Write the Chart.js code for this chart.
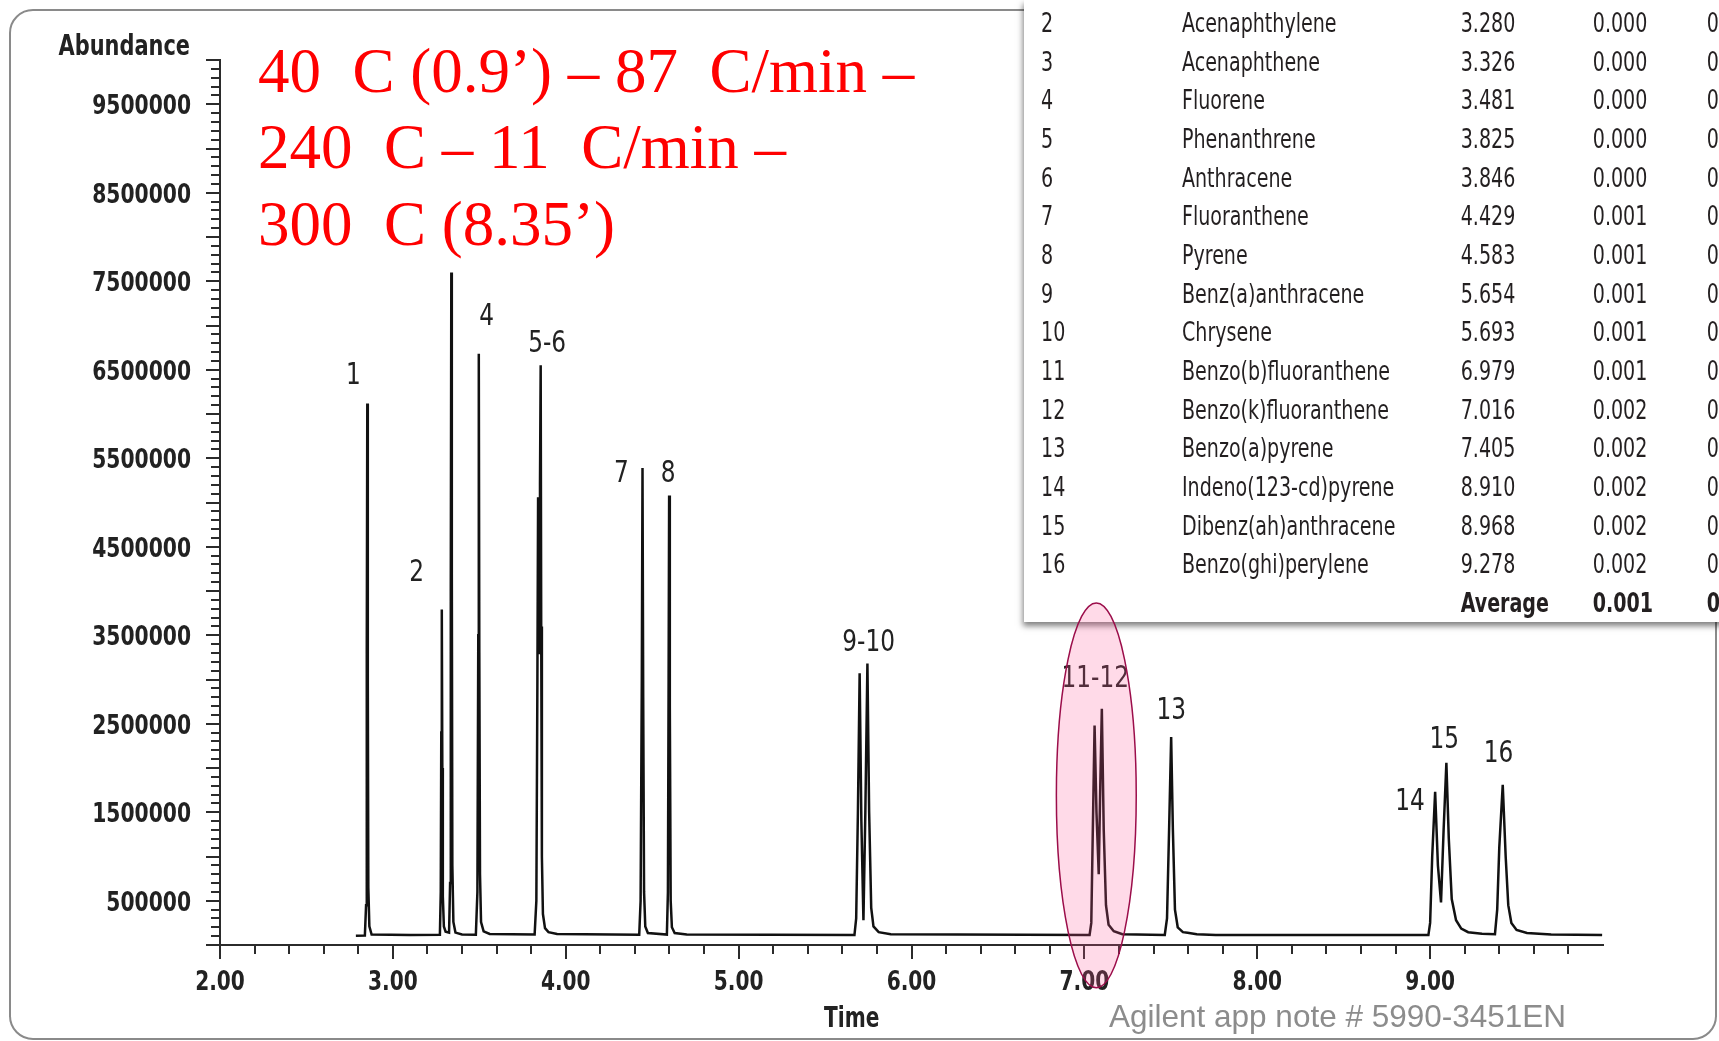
<!DOCTYPE html>
<html>
<head>
<meta charset="utf-8">
<title>PAH chromatogram</title>
<script src="https://cdn.jsdelivr.net/npm/chart.js@4.4.1/dist/chart.umd.min.js"></script>
<style>
  html, body { margin: 0; padding: 0; background: #fff; }
  body { width: 1719px; height: 1041px; position: relative; overflow: hidden; }
  #frame { position: absolute; left: 9px; top: 9px; width: 1708px; height: 1031px; box-sizing: border-box;
           border: 2px solid #8a8a8a; border-radius: 24px; }
  #chart { position: absolute; left: 0; top: 0; }
  #oven { position: absolute; left: 258px; top: 33px; color: #ff0000; white-space: pre;
          font-family: "Liberation Serif", "Times New Roman", serif; font-size: 63px; line-height: 76.3px; }
  #rtBox { position: absolute; left: 1024px; top: 0; width: 720px; height: 622px; background: #fff;
           box-shadow: -1px 4px 6px rgba(0,0,0,0.5); overflow: hidden; }
  #rtTable { position: absolute; left: 17px; top: 4px; width: 891px; border-collapse: collapse; table-layout: fixed;
             transform: scaleX(0.815); transform-origin: 0 0;
             font-family: "DejaVu Sans Condensed", sans-serif; font-size: 26px; color: #231f20; }
  #rtTable td { padding: 0; height: 38.67px; line-height: 38.67px; white-space: nowrap; vertical-align: middle; overflow: visible; }
  #rtTable tr.avg td { font-weight: bold; }
  #appNote { position: absolute; left: 1109px; top: 1001px; color: #8c8c8c;
             font-family: "Liberation Sans", Arial, sans-serif; font-size: 31.5px; line-height: 31px; white-space: pre; }
  #marks { position: absolute; left: 0; top: 0; pointer-events: none; }
</style>
</head>
<body>
<div id="frame"></div>
<canvas id="chart" width="1719" height="1041"></canvas>
<div id="oven">40  C (0.9’) – 87  C/min –
240  C – 11  C/min –
300  C (8.35’)</div>
<div id="rtBox"><table id="rtTable"><colgroup><col style="width:173px"><col style="width:342px"><col style="width:162px"><col style="width:140px"><col style="width:74px"></colgroup><tbody id="rtBody"></tbody></table></div>
<div id="appNote">Agilent app note # 5990-3451EN</div>
<svg id="marks" width="1719" height="1041"></svg>

<script>
// Chromatogram trace (time in min, abundance in counts)
const traceTime = [
    2.786, 2.838,
    2.845, 2.849, 2.852, 2.855, 2.858, 2.864, 2.877,
    3.100, 3.272,
    3.277, 3.280, 3.283, 3.286, 3.289, 3.295, 3.305, 3.325,
    3.331, 3.335, 3.338, 3.341, 3.344, 3.350, 3.362, 3.400, 3.480,
    3.489, 3.494, 3.497, 3.500, 3.504, 3.510, 3.525, 3.560, 3.820,
    3.830, 3.836, 3.840, 3.844, 3.847, 3.851, 3.855, 3.858, 3.862, 3.868, 3.880, 3.900, 3.950, 4.425,
    4.433, 4.440, 4.444, 4.448, 4.453, 4.460, 4.475, 4.585,
    4.591, 4.595, 4.598, 4.602, 4.607, 4.614, 4.630, 4.700, 5.670,
    5.680, 5.690, 5.700, 5.710, 5.722, 5.733, 5.745, 5.755, 5.767, 5.780, 5.810, 5.880, 7.030,
    7.040, 7.048, 7.059, 7.070, 7.083, 7.092, 7.101, 7.112, 7.125, 7.140, 7.170, 7.220, 7.465,
    7.478, 7.490, 7.502, 7.512, 7.524, 7.540, 7.570, 7.597, 7.650, 7.760, 8.990,
    9.000, 9.012, 9.029, 9.045, 9.063, 9.078, 9.094, 9.108, 9.125, 9.150, 9.180, 9.220, 9.300, 9.375,
    9.388, 9.400, 9.420, 9.437, 9.452, 9.470, 9.500, 9.560, 9.700, 9.995
];
const traceAbund = [
    105000, 108000,
    450000, 3300000, 6120000, 3000000, 650000, 210000, 118000,
    112000, 115000,
    600000, 2400000, 3790000, 2000000, 550000, 210000, 150000, 140000,
    700000, 4000000, 7600000, 4200000, 900000, 260000, 140000, 118000, 115000,
    600000, 3500000, 6680000, 3300000, 800000, 260000, 155000, 125000, 118000,
    500000, 3000000, 5060000, 3600000, 3300000, 5200000, 6550000, 3600000, 1000000, 350000, 190000, 145000, 125000, 115000,
    500000, 3000000, 5390000, 2800000, 600000, 210000, 135000, 118000,
    600000, 3000000, 5080000, 2700000, 500000, 200000, 135000, 118000, 112000,
    300000, 1500000, 3070000, 1400000, 280000, 1500000, 3180000, 1500000, 420000, 210000, 145000, 122000, 112000,
    250000, 1200000, 2480000, 1500000, 800000, 1800000, 2670000, 1300000, 450000, 230000, 155000, 122000, 113000,
    300000, 1300000, 2350000, 1300000, 400000, 200000, 145000, 138000, 122000, 113000, 112000,
    250000, 1000000, 1730000, 900000, 480000, 1300000, 2060000, 1200000, 520000, 280000, 185000, 145000, 128000, 122000,
    400000, 1100000, 1810000, 1000000, 450000, 250000, 170000, 135000, 120000, 112000
];

// Axis tick labels
const xTickValues = [2, 3, 4, 5, 6, 7, 8, 9];
const yTickValues = [500000, 1500000, 2500000, 3500000, 4500000, 5500000, 6500000, 7500000, 8500000, 9500000];

// Peak labels and where they sit (time, abundance)
const peakTags = ['1', '2', '4', '5-6', '7', '8', '9-10', '11-12', '13', '14', '15', '16'];
const peakTagTime = [2.771, 3.137, 3.542, 3.892, 4.322, 4.592, 5.752, 7.063, 7.502, 8.884, 9.082, 9.396];
const peakTagAbund = [6460000, 4240000, 7130000, 6820000, 5360000, 5360000, 3450000, 3040000, 2680000, 1650000, 2350000, 2190000];

// Highlighted region round peaks 11-12
const highlightTime = [6.838, 7.300];
const highlightAbund = [-483000, 3865000];

// Retention time table (row 1 is cut off in the source)
const compoundNo = ['2', '3', '4', '5', '6', '7', '8', '9', '10', '11', '12', '13', '14', '15', '16'];
const compoundName = ['Acenaphthylene', 'Acenaphthene', 'Fluorene', 'Phenanthrene', 'Anthracene', 'Fluoranthene',
    'Pyrene', 'Benz(a)anthracene', 'Chrysene', 'Benzo(b)fluoranthene', 'Benzo(k)fluoranthene', 'Benzo(a)pyrene',
    'Indeno(123-cd)pyrene', 'Dibenz(ah)anthracene', 'Benzo(ghi)perylene'];
const compoundRT = ['3.280', '3.326', '3.481', '3.825', '3.846', '4.429', '4.583', '5.654', '5.693', '6.979',
    '7.016', '7.405', '8.910', '8.968', '9.278'];
const compoundDev = ['0.000', '0.000', '0.000', '0.000', '0.000', '0.001', '0.001', '0.001', '0.001', '0.001',
    '0.002', '0.002', '0.002', '0.002', '0.002'];
const averageDev = '0.001';

const condensed = '"DejaVu Sans Condensed", sans-serif';
const inkColor = '#222222';

function buildTable() {
    const body = document.getElementById('rtBody');
    let html = compoundNo.map((n, i) => `
        <tr><td>${n}</td><td>${compoundName[i]}</td><td>${compoundRT[i]}</td><td>${compoundDev[i]}</td><td>0</td></tr>
    `).join('');
    html += `<tr class="avg"><td></td><td></td><td>Average</td><td>${averageDev}</td><td>0</td></tr>`;
    body.innerHTML = html;
}

// draw text squeezed sideways, to mimic the narrow Agilent face
function narrowText(ctx, text, px, py, squeeze) {
    ctx.save();
    ctx.translate(px, py);
    ctx.scale(squeeze, 1);
    ctx.fillText(text, 0, 0);
    ctx.restore();
}

const axisMarks = {
    id: 'axisMarks',
    afterDraw(chart) {
        const { ctx, scales: { x, y } } = chart;
        ctx.save();
        ctx.strokeStyle = '#2b2b2b';
        ctx.lineWidth = 2;

        // y ticks every 100000, longer every 500000
        const axisX = Math.round(x.left);
        for (let i = 0; i <= 100; i++) {
            const py = Math.round(y.getPixelForValue(i * 100000));
            const len = i % 5 === 0 ? 14 : 9;
            ctx.beginPath();
            ctx.moveTo(axisX - len, py);
            ctx.lineTo(axisX, py);
            ctx.stroke();
        }
        // x ticks every 0.2 min, longer on whole minutes
        const axisY = Math.round(y.bottom);
        for (let i = 0; i < 40; i++) {
            const px = Math.round(x.getPixelForValue(2 + i * 0.2));
            const len = i % 5 === 0 ? 14 : 9;
            ctx.beginPath();
            ctx.moveTo(px, axisY);
            ctx.lineTo(px, axisY + len);
            ctx.stroke();
        }

        // tick labels from the scales' own ticks
        ctx.fillStyle = inkColor;
        ctx.font = 'bold 27px ' + condensed;
        ctx.textBaseline = 'alphabetic';
        ctx.textAlign = 'right';
        y.ticks.forEach(t => {
            narrowText(ctx, String(t.value), axisX - 29, y.getPixelForValue(t.value) + 10, 0.835);
        });
        ctx.textAlign = 'center';
        x.ticks.forEach(t => {
            narrowText(ctx, t.value.toFixed(2), x.getPixelForValue(t.value), axisY + 45, 0.83);
        });

        // axis titles
        ctx.font = 'bold 28px ' + condensed;
        ctx.textAlign = 'right';
        narrowText(ctx, 'Abundance', axisX - 30, 55, 0.83);
        ctx.textAlign = 'center';
        narrowText(ctx, 'Time', x.getPixelForValue(5.654), 1027, 0.8);

        // peak numbers
        ctx.font = '30px ' + condensed;
        peakTags.forEach((tag, i) => {
            const px = x.getPixelForValue(peakTagTime[i]);
            const py = y.getPixelForValue(peakTagAbund[i]);
            narrowText(ctx, tag, px, py + 11, 0.86);
        });
        ctx.restore();
    }
};

function drawHighlight(chart) {
    const { x, y } = chart.scales;
    const left = x.getPixelForValue(highlightTime[0]);
    const right = x.getPixelForValue(highlightTime[1]);
    const top = y.getPixelForValue(highlightAbund[1]);
    const bottom = y.getPixelForValue(highlightAbund[0]);
    const svg = document.getElementById('marks');
    const el = document.createElementNS('http://www.w3.org/2000/svg', 'ellipse');
    el.setAttribute('cx', (left + right) / 2);
    el.setAttribute('cy', (top + bottom) / 2);
    el.setAttribute('rx', (right - left) / 2);
    el.setAttribute('ry', (bottom - top) / 2);
    el.setAttribute('fill', 'rgba(255, 85, 150, 0.22)');
    el.setAttribute('stroke', '#9b0d4a');
    el.setAttribute('stroke-width', '1.5');
    svg.appendChild(el);
}

function createChromatogram() {
    const ctx = document.getElementById('chart');
    const points = traceTime.map((t, i) => ({ x: t, y: traceAbund[i] }));

    const chart = new Chart(ctx, {
        type: 'line',
        data: {
            datasets: [{
                data: points,
                borderColor: '#111111',
                borderWidth: 2.5,
                pointRadius: 0,
                tension: 0,
                fill: false
            }]
        },
        options: {
            responsive: false,
            animation: false,
            devicePixelRatio: 1,
            layout: { padding: { left: 60, top: 60, right: 116, bottom: 36 } },
            plugins: {
                legend: { display: false },
                tooltip: { enabled: false }
            },
            scales: {
                x: {
                    type: 'linear',
                    min: 2,
                    max: 10,
                    afterBuildTicks: axis => { axis.ticks = xTickValues.map(v => ({ value: v })); },
                    afterFit: axis => { axis.height = 60; },
                    grid: { display: true, drawOnChartArea: false, drawTicks: false },
                    border: { display: true, color: '#2b2b2b', width: 2 },
                    ticks: { display: false }
                },
                y: {
                    type: 'linear',
                    min: 0,
                    max: 10000000,
                    afterBuildTicks: axis => { axis.ticks = yTickValues.map(v => ({ value: v })); },
                    afterFit: axis => { axis.width = 160; },
                    grid: { display: true, drawOnChartArea: false, drawTicks: false },
                    border: { display: true, color: '#2b2b2b', width: 2 },
                    ticks: { display: false }
                }
            }
        },
        plugins: [axisMarks]
    });
    drawHighlight(chart);
}

buildTable();
createChromatogram();
</script>
</body>
</html>
